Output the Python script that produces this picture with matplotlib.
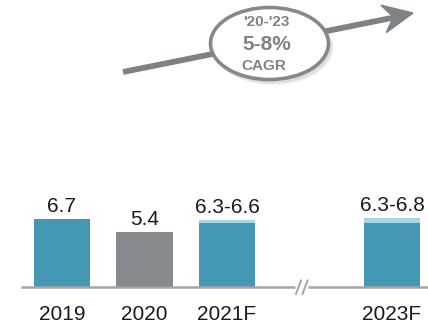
"""
Bar chart with CAGR arrow callout
"""
import matplotlib.pyplot as plt
from matplotlib.patches import Ellipse, Polygon

plt.rcParams['font.family'] = ['Liberation Sans', 'DejaVu Sans']

# data
years = ['2019', '2020', '2021F', '2023F']
xpos = [0, 1, 2, 4]
low = [6.7, 5.4, 6.3, 6.3]
high = [6.7, 5.4, 6.6, 6.8]
value_labels = ['6.7', '5.4', '6.3-6.6', '6.3-6.8']
cagr_lines = ["'20-'23", '5-8%', 'CAGR']

# colours
teal = '#4598b4'
light = '#a9d6e3'
grey_bar = '#878a8c'
grey = '#7f8285'
bar_colors = [teal, grey_bar, teal, teal]

W, H = 428, 324
fig = plt.figure(figsize=(W / 100, H / 100), dpi=100)

# bar axes: unit x = 82.5 px, x=0 at 62 px; y=0 at 37 px from bottom, 10.15 px/unit
ax = fig.add_axes([0, 0, 1, 1])
ax.set_xlim(-62 / 82.5, (W - 62) / 82.5)
ax.set_ylim(-37 / 10.15, (H - 37) / 10.15)
ax.axis('off')

ax.bar(xpos, high, width=0.68, color=light, zorder=2)
ax.bar(xpos, low, width=0.68, color=bar_colors, zorder=3)

for x, top, lab in zip(xpos, high, value_labels):
    ax.annotate(lab, (x, top), xytext=(0, 5), textcoords='offset points',
                ha='center', va='baseline', fontsize=15, color='#1a1a1a')
for x, yr in zip(xpos, years):
    ax.annotate(yr, (x, 0), xytext=(0, -19.5), textcoords='offset points',
                ha='center', va='center', fontsize=15, color='#1a1a1a')

# baseline with break
ax.plot([-0.5, 2.82], [0, 0], color='#a3a5a7', lw=1.8, zorder=4,
        solid_capstyle='butt')
ax.plot([2.98, 5], [0, 0], color='#a3a5a7', lw=1.8, zorder=4,
        solid_capstyle='butt')

# overlay in pixel coordinates for arrow / ellipse / break marks
ov = fig.add_axes([0, 0, 1, 1])
ov.set_xlim(0, W)
ov.set_ylim(H, 0)
ov.axis('off')

for x0 in (296, 302.5):
    ov.plot([x0, x0 + 5], [294, 280.5], color='#a3a5a7', lw=1.4)

# arrow
ov.plot([123, 394], [72, 17.5], color=grey, lw=4.2, solid_capstyle='butt',
        zorder=1)
ov.add_patch(Polygon([(413, 13), (386.3, 32.6), (393.4, 16.9), (380.9, 5.2)],
                     closed=True, color=grey, zorder=2))

# ellipse callout with soft shadow
for dx, dy, a in [(4, 5, 0.25), (3, 4, 0.35), (2, 3, 0.45)]:
    ov.add_patch(Ellipse((269.5 + dx, 43.5 + dy), 120, 73,
                         facecolor='#d0d0d0', edgecolor='none', alpha=a,
                         zorder=3))
ov.add_patch(Ellipse((269.5, 43.5), 118, 72, facecolor='white',
                     edgecolor='#86898b', lw=2.6, zorder=4))
ov.text(266, 22.5, cagr_lines[0], ha='center', va='center', fontsize=11,
        fontweight='bold', color=grey, zorder=5)
ov.text(267, 44, cagr_lines[1], ha='center', va='center', fontsize=15,
        fontweight='bold', color=grey, zorder=5)
ov.text(264, 66.5, cagr_lines[2], ha='center', va='center', fontsize=11,
        fontweight='bold', color=grey, zorder=5)

fig.savefig('out.png', dpi=100)
